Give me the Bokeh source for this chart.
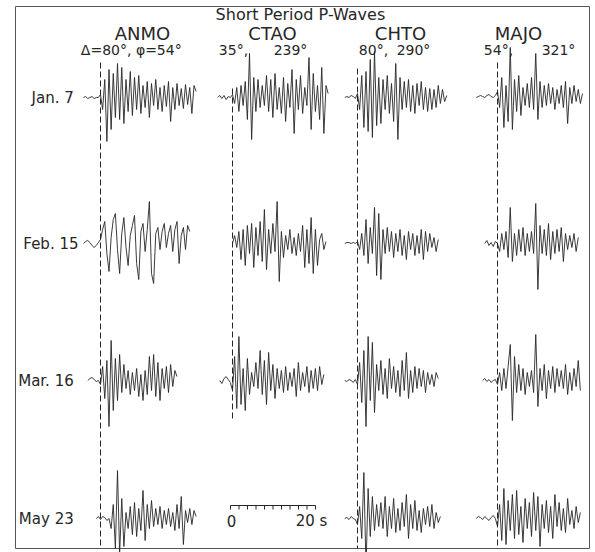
from bokeh.plotting import figure
from bokeh.models import Range1d
from bokeh.core.properties import value
from bokeh.embed import file_html
from bokeh.resources import INLINE

# ---------------- data ----------------
title_text = "Short  Period  P-Waves"
stations = ["ANMO", "CTAO", "CHTO", "MAJO"]
distances = ["\u0394=80\u00b0,  \u03c6=54\u00b0", "35\u00b0,", "80\u00b0,", "54\u00b0,"]
azimuths = ["", "239\u00b0", "290\u00b0", "321\u00b0"]
dates = ["Jan.  7", "Feb. 15", "Mar.  16", "May  23"]
DT = 0.5  # s between samples
scale_ticks_s = [0, 2, 4, 6, 8, 10, 12, 14, 16, 18, 20]
scale_labels = ["0", "20 s"]

# amplitudes (arbitrary units, up = positive)
ANMO_JAN7 = [0, 1, -1, 0, 1, -1, 0, 0,
             3, -12, 18, -44, 28, -32, 24, -20, 34, -22, 30, -26, 18, -14, 26, -18, 20, -12, 22, -16,
             12, -10, 16, -20, 14, -8, 18, -12, 10, -14, 12, -9, 16, -24, 10, -12, 14, -8, 9, -11,
             13, -7, 10, -16, 12, 6]
ANMO_FEB15 = [0, 2, 3, 1, -2, -4, -2, 1,
              4, 14, 22, -10, -28, 6, 24, 30, -6, -30, 10, 26, -4, -22, 8, 18, 28, -20, -36, 12,
              20, -8, 14, 42, -30, -40, 10, 16, -6, 12, 20, -4, 10, 18, -8, 14, 22, -20, 8, 16,
              -6, 18, 12]
ANMO_MAR16 = [0, 2, 3, 1, -1, 0,
              -4, 14, -18, 20, -46, 40, -30, 22, -20, 26, -12, 16, -8, 10, -14, 8, -10, 12, -16, 6,
              -20, 10, -14, 24, -10, 26, -16, 18, -20, 12, -8, 14, -12, 16, -6, 10, 4]
ANMO_MAY23 = [0, 2, -1, 2, 1, -2,
              0, -10, 14, -30, 48, -36, 20, -28, 6, -10, 12, -16, 16, -18, 10, -12, 28, -22, 14, -10,
              18, -8, 10, -6, 12, -10, 8, -6, 10, -8, 6, -12, 14, -10, 22, -26, 8, -4, 10, -6, 8, 2]
CTAO_JAN7 = [0, 2, -1, 2, -2, 1, 0,
             3, -6, 10, -14, 12, -8, 16, -22, 44, -42, 20, -14, 18, -10, 12, -8, 22, -14, 18, -20,
             24, -12, 10, -16, 20, -24, 14, -10, 28, -36, 18, -12, 22, -16, 10, -8, 40, -32, 24, -14,
             12, -22, 30, -36, 12, 4]
CTAO_FEB15 = [0, 8, -4, 12, -16, 14, -22, 18, -10, 20, -24, 16, -12, 22, -18, 34, -26, 14, -10, 20,
              -8, 42, -38, 12, -14, 8, -6, 14, -10, 6, -12, 10, -8, 18, -24, 14, -20, 26, -30, 14,
              -22, 4, 10, -6, 2]
CTAO_MAR16 = [0, -3, 2, 4, 1, -2,
              -10, 24, -28, 44, -24, 12, -30, 22, -14, 8, -6, 18, -8, 30, -14, 20, -24, 28, -10, 16,
              -18, 12, -8, 10, -12, 14, -10, 8, -6, 12, -16, 18, -10, 8, -6, 14, -12, 10, -8, 12,
              -10, 14, -4, 6]
CHTO_JAN7 = [0, 1, 0, 2, 1, -1,
             4, -12, 22, -30, 26, -34, 38, -40, 46, -28, 20, -26, 18, -12, 22, -16, 14, -24, 34, -42,
             20, -12, 16, -10, 18, -14, 12, -16, 14, -8, 16, -12, 10, -14, 9, -12, 8, -10, 12, -6,
             8, -4, 2]
CHTO_FEB15 = [0, 1, 1, 0, 1, 0,
              2, -6, 10, -12, 24, -20, 16, -10, 36, -32, 30, -36, 14, -10, 16, -8, 12, -14, 10, -8,
              14, -12, 8, -16, 12, -6, 10, -12, 8, -10, 14, -16, 12, -8, 10, -4, 6, -8, 4]
CHTO_MAR16 = [0, -1, 1, 0, -2, 1,
              -4, 18, -22, 30, -46, 44, -20, 38, -32, 16, -10, 20, -14, 12, -18, 22, -8, 14, -12, 10,
              -16, 20, -10, 28, -18, 10, -12, 14, -8, 12, -6, 10, -12, 8, -4, 6, -6, 8, 2]
CHTO_MAY23 = [0, 1, -1, 2, 0, -1,
              -6, 12, -20, 46, -50, 30, -18, 22, -12, 14, -8, 16, -10, 22, -18, 12, -10, 20, -14, 10,
              -12, 16, -8, 24, -20, 14, -10, 18, -12, 8, -14, 10, -6, 12, -8, 14, -10, 6, -4, 2]
MAJO_JAN7 = [0, 1, 2, 1, 0, 2, 3, 1, 0, 2,
             6, -10, 20, -30, 12, -24, 50, -32, 18, -14, 22, -18, 10, -8, 14, -10, 20, -12, 44, -22,
             16, -10, 12, -8, 14, -6, 10, -12, 8, -6, 12, -10, 16, -26, 10, -6, 12, -4, 8, -6, 4]
MAJO_FEB15 = [0, 3, -2, 1, -3, 2,
              0, -8, 10, -6, 12, -14, 36, -18, 10, -12, 14, -8, 16, -12, 10, -8, 12, -10, 40, -46,
              18, -10, 14, -12, 20, -16, 12, -10, 14, -8, 16, -18, 10, -6, 8, -4, 10, -8, 6]
MAJO_MAR16 = [0, 2, -1, 1, -2, 0, 1,
              -4, 8, -10, 12, -8, 14, 36, -40, 24, -12, 16, -10, 12, -14, 8, -6, 10, -12, 46, -26,
              12, -10, 16, -18, 10, -8, 14, -12, 12, -6, 10, -8, 16, -14, 8, -10, 12, -6, 20, -10]
MAJO_MAY23 = [0, 2, 1, -1, 2, 0, -2, 1, 3, 0,
              -8, 14, -22, 30, -26, 18, -12, 24, -20, 28, -16, 12, -24, 20, -10, 16, -18, 26, -12, 22,
              -28, 14, -10, 18, -14, 12, -20, 24, -8, 16, -12, 10, -14, 20, -6, 8, -10, 12, -4, 6]

# traces[row][col]; None = no record (scale bar shown instead)
traces = [
    [ANMO_JAN7, CTAO_JAN7, CHTO_JAN7, MAJO_JAN7],
    [ANMO_FEB15, CTAO_FEB15, CHTO_FEB15, MAJO_FEB15],
    [ANMO_MAR16, CTAO_MAR16, CHTO_MAR16, MAJO_MAR16],
    [ANMO_MAY23, None, CHTO_MAY23, MAJO_MAY23],
]
# sample index of the P arrival in each trace
pick_index = [
    [8, 7, 6, 10],
    [8, 0, 6, 6],
    [6, 6, 6, 7],
    [2, None, 6, 10],
]

# ---------------- layout ----------------
W, H = 595, 552
PX_PER_S = 4.25
COL_X = [100, 232, 357, 497]          # pick line positions
ROW_Y = [97, 243, 380, 518]           # trace baselines
LABEL_X = [142, 272, 400, 518]
DIST_X = [133, 233, 373, 498]
AZ_X = [0, 290, 413, 558]
PICK_SPAN = [(62, 548), (88, 420), (68, 548), (62, 548)]
INK = "#262626"
FONT = value("DejaVu Sans")

p = figure(width=W, height=H, x_range=Range1d(0, W), y_range=Range1d(H, 0),
           output_backend="svg", toolbar_location=None, min_border=0)
p.axis.visible = False
p.grid.visible = False
p.outline_line_color = None
p.background_fill_color = "white"
p.border_fill_color = "white"

# frame
p.quad(left=[15], right=[589], top=[6], bottom=[548], fill_color=None,
       line_color="#555555", line_width=1)

# pick lines
for c in range(4):
    y0, y1 = PICK_SPAN[c]
    p.segment(x0=[COL_X[c]], y0=[y0], x1=[COL_X[c]], y1=[y1],
              line_color=INK, line_width=1, line_dash="6 3")

# traces
for r in range(4):
    for c in range(4):
        tr = traces[r][c]
        if tr is None:
            continue
        k0 = pick_index[r][c]
        xs = [COL_X[c] + (i - k0) * DT * PX_PER_S for i in range(len(tr))]
        ys = [ROW_Y[r] - a for a in tr]
        p.line(xs, ys, line_color=INK, line_width=0.9)

# title and headers
p.text(x=[305], y=[14], text=[title_text], text_font=FONT, text_font_size="16px",
       text_align="center", text_baseline="middle", text_color=INK)
p.text(x=LABEL_X, y=[33] * 4, text=stations, text_font=FONT, text_font_size="18px",
       text_align="center", text_baseline="middle", text_color=INK)
p.text(x=DIST_X, y=[49] * 4, text=distances, text_font=FONT, text_font_size="14px",
       text_align="center", text_baseline="middle", text_color=INK)
p.text(x=AZ_X[1:], y=[49] * 3, text=azimuths[1:], text_font=FONT, text_font_size="14px",
       text_align="center", text_baseline="middle", text_color=INK)
p.text(x=[78] * 4, y=ROW_Y, text=dates, text_font=FONT, text_font_size="15px",
       text_align="right", text_baseline="middle", text_color=INK)

# scale bar (0-20 s)
SB_X, SB_Y = 230, 505
p.line([SB_X + scale_ticks_s[0] * PX_PER_S, SB_X + scale_ticks_s[-1] * PX_PER_S], [SB_Y, SB_Y],
       line_color=INK, line_width=1.2)
p.segment(x0=[SB_X + t * PX_PER_S for t in scale_ticks_s], y0=[SB_Y] * len(scale_ticks_s),
          x1=[SB_X + t * PX_PER_S for t in scale_ticks_s], y1=[SB_Y + 4] * len(scale_ticks_s),
          line_color=INK, line_width=1)
p.text(x=[SB_X + 1, SB_X + 20 * PX_PER_S - 4], y=[SB_Y + 15, SB_Y + 15], text=scale_labels,
       text_font=FONT, text_font_size="15px", text_align="center", text_baseline="middle",
       text_color=INK)

open("out.html", "w").write(file_html(p, INLINE))
